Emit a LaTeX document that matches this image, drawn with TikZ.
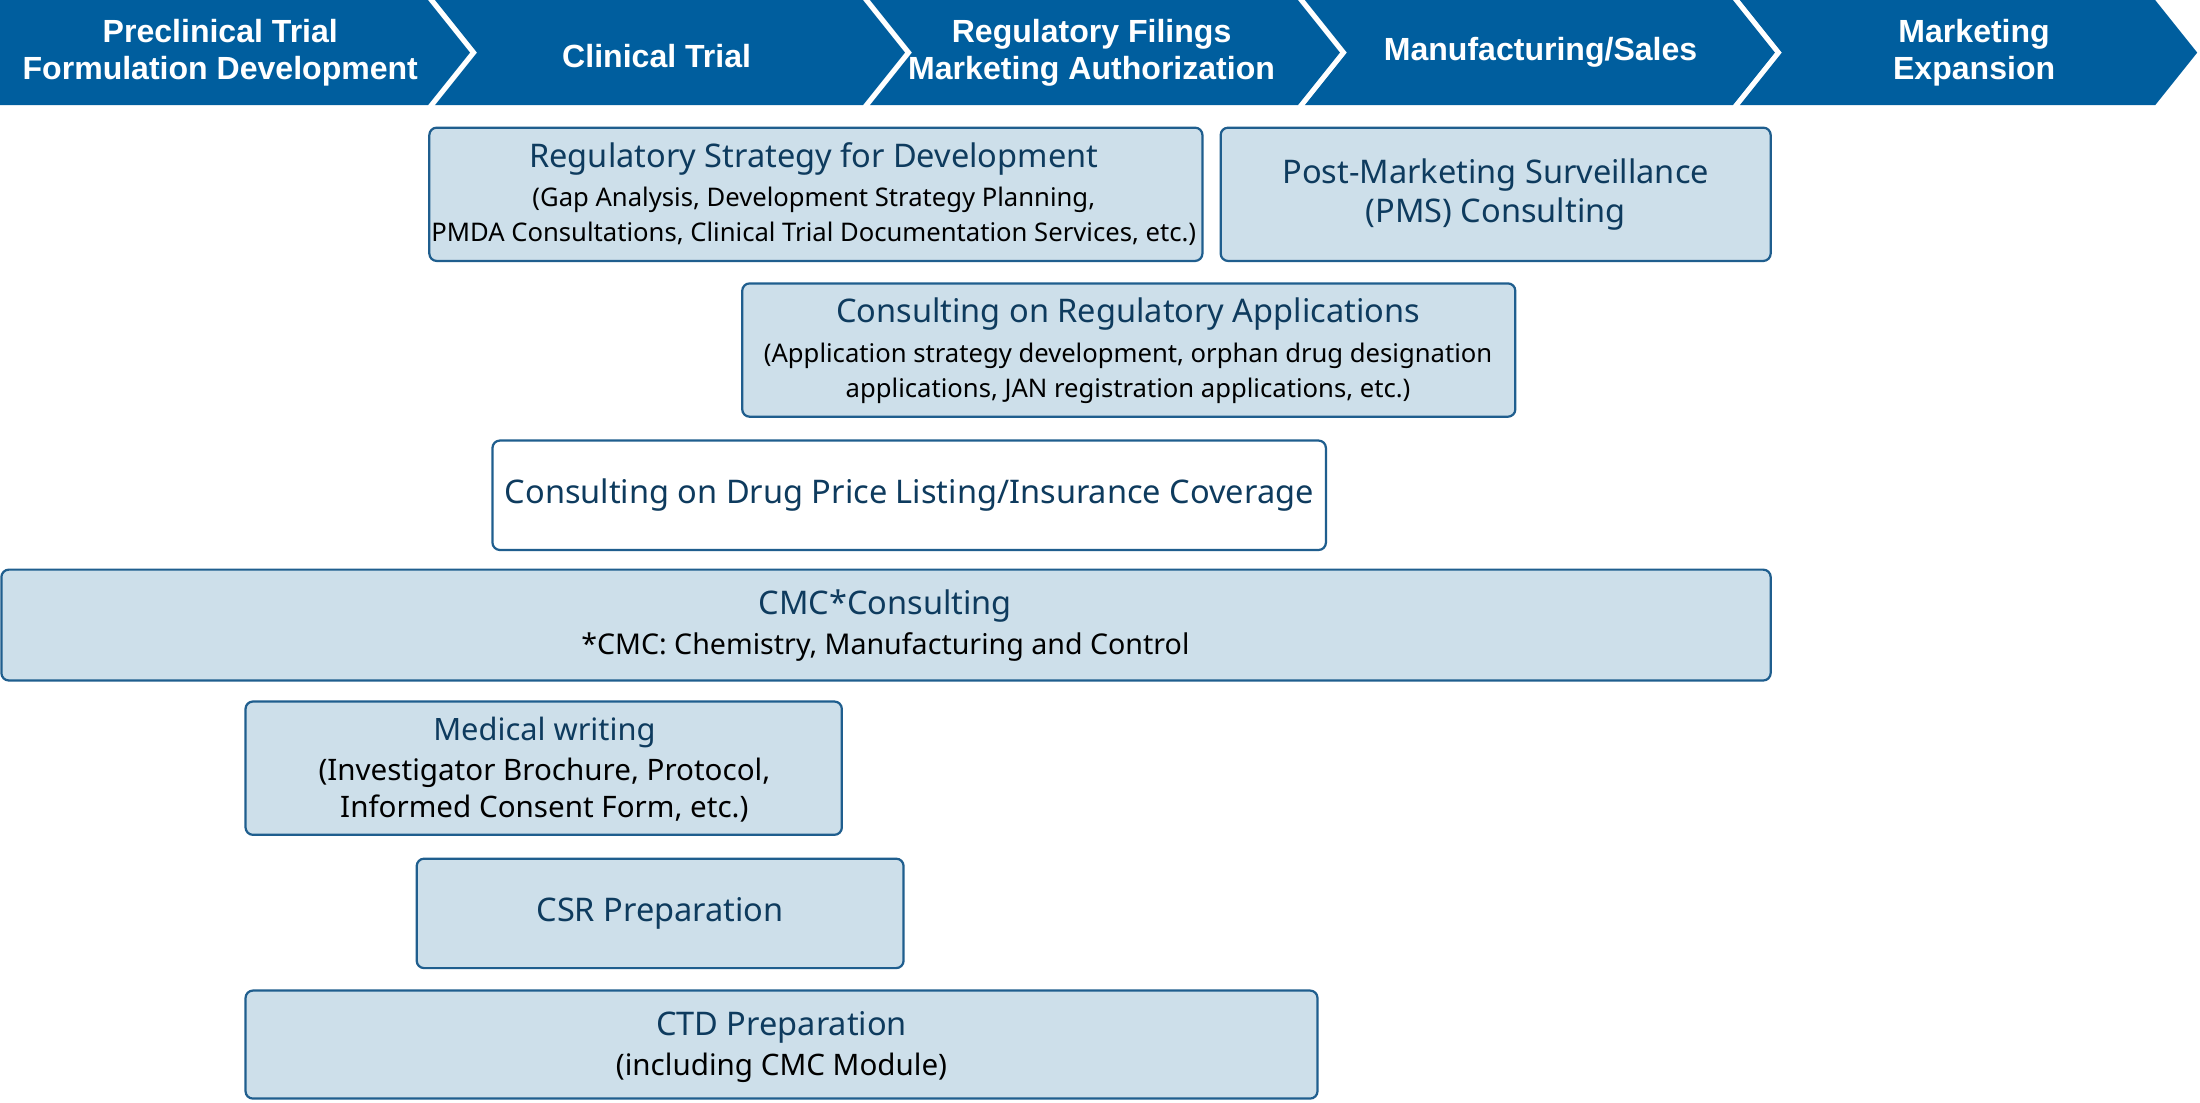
\documentclass[tikz,border=0pt]{standalone}
\usepackage{fontspec}
\setmainfont{Noto Sans}
\newfontfamily\hdrfont{Liberation Sans}
\usetikzlibrary{positioning}
\definecolor{phaseblue}{HTML}{005E9E}
\definecolor{boxfill}{HTML}{CDDFEA}
\definecolor{boxline}{HTML}{1F5E8E}
\definecolor{titleink}{HTML}{0E3B5E}

\tikzset{
	svcbox/.style={draw=boxline, line width=0.9pt, fill=boxfill, rounded corners=3pt},
	svctitle/.style={text=titleink, font=\fontsize{13.2}{16}\selectfont, align=center},
	svcsub/.style={text=black, font=\fontsize{10.4}{14}\selectfont, align=center},
	phasetxt/.style={text=white, font=\hdrfont\bfseries\fontsize{13}{15}\selectfont, align=center}
}

\newcommand{\svc}[6]{% name, x1, y1, x2, y2, fill
	\draw [svcbox, fill=#6] (#2,#3) rectangle (#4,#5);
	\coordinate (#1) at ({(#2+#4)/2},{(#3+#5)/2});
}

\begin{document}
\begin{tikzpicture}[x=0.02cm, y=-0.02cm]
		\useasboundingbox [fill=white] (0,0) rectangle (1568,786);
		% phase chevrons
		\fill [phaseblue] (0,0) -- (305,0) -- (335,37.5) -- (305,75) -- (0,75) -- cycle;
		\foreach \x in {310,620,930}
			\fill [phaseblue] (\x,0) -- (\x+305,0) -- (\x+335,37.5) -- (\x+305,75) -- (\x,75) -- (\x+30,37.5) -- cycle;
		\fill [phaseblue] (1240,0) -- (1536,0) -- (1566,37.5) -- (1536,75) -- (1240,75) -- (1270,37.5) -- cycle;
		\node [phasetxt] (p1) at (157,37.5) {Preclinical Trial\\Formulation Development};
		\node [phasetxt] (p2) at (468,40) {Clinical Trial};
		\node [phasetxt] (p3) at (778,37.5) {Regulatory Filings\\Marketing Authorization};
		\node [phasetxt] (p4) at (1098,37.5) {Manufacturing/Sales};
		\node [phasetxt] (p5) at (1407,37.5) {Marketing\\Expansion};
		%
		% service boxes
		\svc{strat}{306}{91}{857}{186}{boxfill}
		\svc{pms}{870}{91}{1262}{186}{boxfill}
		\svc{appl}{529}{202}{1080}{297}{boxfill}
		\svc{price}{351}{314}{945}{392}{white}
		\svc{cmc}{1}{406}{1262}{485}{boxfill}
		\svc{mw}{175}{500}{600}{595}{boxfill}
		\svc{csr}{297}{612}{644}{690}{boxfill}
		\svc{ctd}{175}{706}{939}{783}{boxfill}
		%
		\node [svctitle] (strat-t) at (580,113) {Regulatory Strategy for Development};
		\node [svcsub, below=-2pt of strat-t] (strat-s) {(Gap Analysis, Development Strategy Planning,\\PMDA Consultations, Clinical Trial Documentation Services, etc.)};
		\node [svctitle] (pms-t) at (pms) {Post-Marketing Surveillance\\(PMS) Consulting};
		\node [svctitle] (appl-t) at (804,224) {Consulting on Regulatory Applications};
		\node [svcsub, below=-2pt of appl-t] (appl-s) {(Application strategy development, orphan drug designation\\applications, JAN registration applications, etc.)};
		\node [svctitle] (price-t) at (price) {Consulting on Drug Price Listing/Insurance Coverage};
		\node [svctitle] (cmc-t) at (631,432) {CMC*Consulting};
		\node [svcsub, font=\fontsize{11.6}{14}\selectfont, below=-3pt of cmc-t] (cmc-s) {*CMC: Chemistry, Manufacturing and Control};
		\node [svctitle, font=\fontsize{12.5}{15}\selectfont] (mw-t) at (388,522) {Medical writing};
		\node [svcsub, font=\fontsize{12}{15}\selectfont, below=-3pt of mw-t] (mw-s) {(Investigator Brochure, Protocol,\\Informed Consent Form, etc.)};
		\node [svctitle] (csr-t) at (csr) {CSR Preparation};
		\node [svctitle] (ctd-t) at (557,732) {CTD Preparation};
		\node [svcsub, font=\fontsize{12}{14}\selectfont, below=-3pt of ctd-t] (ctd-s) {(including CMC Module)};
	\end{tikzpicture}
\end{document}
